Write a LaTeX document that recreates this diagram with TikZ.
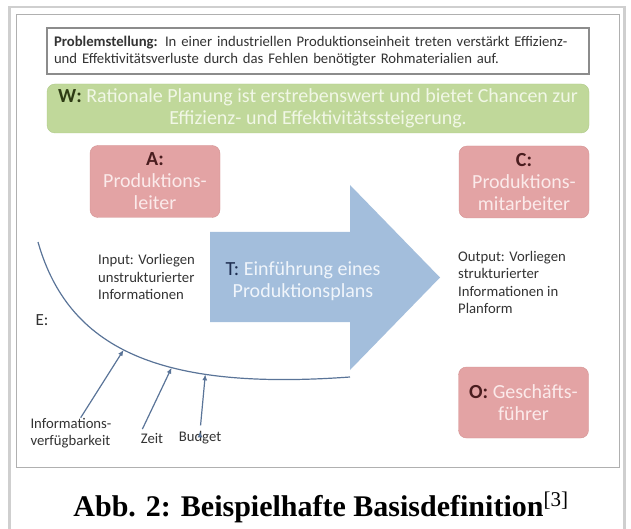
\documentclass[tikz,border=0pt]{standalone}
\usepackage{fontspec}
\setmainfont{Carlito}
\newfontfamily\captionfont{Liberation Serif}
\usetikzlibrary{arrows.meta}

\definecolor{framegray}{HTML}{CFCFCF}
\definecolor{boxgray}{HTML}{8C8C8C}
\definecolor{wgreen}{HTML}{C0D89A}
\definecolor{wgreenline}{HTML}{AFC98A}
\definecolor{wdark}{HTML}{2E3B14}
\definecolor{wlight}{HTML}{F1F7E6}
\definecolor{rolepink}{HTML}{E3A3A4}
\definecolor{rolepinkline}{HTML}{D39393}
\definecolor{roledark}{HTML}{4A1D1F}
\definecolor{rolelight}{HTML}{FBEAEA}
\definecolor{tblue}{HTML}{A3BEDC}
\definecolor{tdark}{HTML}{1D2D4F}
\definecolor{tlight}{HTML}{F0F5FB}
\definecolor{elinie}{HTML}{5A7498}
\definecolor{textgray}{HTML}{333333}

\newcommand{\kleinschrift}{\fontsize{14.7}{17.5}\selectfont}
\newcommand{\grossschrift}{\fontsize{20}{22}\selectfont}

\tikzstyle{problembox} = [draw = boxgray, line width = 1.5pt, fill = white, minimum width = 542pt, minimum height = 46pt, text width = 528pt, align = left, inner sep = 0pt, font = \kleinschrift, text = textgray]
\tikzstyle{wbox} = [draw = wgreenline, fill = wgreen, rounded corners = 8pt, minimum width = 542pt, minimum height = 49pt, align = center, inner sep = 0pt, font = \grossschrift, text = wlight]
\tikzstyle{rolebox} = [draw = rolepinkline, fill = rolepink, rounded corners = 8pt, minimum width = 130pt, minimum height = 72pt, align = center, inner sep = 0pt, font = \grossschrift, text = rolelight]
\tikzstyle{notiz} = [align = left, inner sep = 0pt, font = \kleinschrift, text = textgray]
\tikzstyle{einfluss} = [draw = elinie, line width = 1.2pt]

\begin{document}
\begin{tikzpicture}[x = 1pt, y = -1pt, >={Latex[length = 6pt, width = 5pt]}]
			\useasboundingbox (0,0) rectangle (631,529);
			% Rahmen
			\draw[framegray, line width = 2.5pt] (9.5,529) |- (624.5,7) -- (624.5,529);
			\draw[framegray!85!black, line width = 1pt] (16,15) rectangle (619,467);
			% Problemstellung und Weltanschauung
			\node[problembox] (P) at (318,51) {\textbf{Problemstellung:} In einer industriellen Produktionseinheit treten verstärkt Effizienz-\\und Effektivitätsverluste durch das Fehlen benötigter Rohmaterialien auf.};
			\node[wbox] (W) at (318,108.5) {\textcolor{wdark}{\textbf{W:}} Rationale Planung ist erstrebenswert und bietet Chancen zur\\Effizienz- und Effektivitätssteigerung.};
			% Akteure, Kunden, Eigentuemer
			\node[rolebox] (A) at (155,181.5) {\textcolor{roledark}{\textbf{A:}}\\Produktions-\\leiter};
			\node[rolebox] (C) at (524,182) {\textcolor{roledark}{\textbf{C:}}\\Produktions-\\mitarbeiter};
			\node[rolebox, minimum height = 71pt] (O) at (523.5,402.5) {\textcolor{roledark}{\textbf{O:}} Geschäfts-\\führer};
			% Transformation
			\fill[tblue] (210,232) -- (350,232) -- (350,185) -- (440,277.5) -- (350,370) -- (350,322) -- (210,322) -- cycle;
			\node[font = \grossschrift, text = tlight, align = center] (T) at (303,281) {\textcolor{tdark}{T:} Einführung eines\\Produktionsplans};
			\node[notiz, anchor = west] (input) at (98,277) {Input: Vorliegen\\unstrukturierter\\Informationen};
			\node[notiz, anchor = west] (output) at (458,282.5) {Output: Vorliegen\\strukturierter\\Informationen in\\Planform};
			% Umwelt
			\draw[einfluss] (38,242) .. controls (70,355) and (170,390) .. (350,377)
				coordinate[pos = 0.45] (e1) coordinate[pos = 0.6] (e2) coordinate[pos = 0.69] (e3);
			\node[font = \fontsize{17}{20}\selectfont, text = textgray] (E) at (42,320) {E:};
			\node[notiz] (info) at (71,433) {Informations-\\verfügbarkeit};
			\node[notiz] (zeit) at (152,438) {Zeit};
			\node[notiz] (budget) at (200,438) {Budget};
			\path[->, einfluss]
			(info) edge (e1)
			(zeit.north west) edge[shorten <= 4pt] (e2)
			(budget.north) edge[shorten <= 6pt] (e3);
			% Bildunterschrift
			\node[anchor = base, font = \captionfont\fontsize{30}{34}\selectfont\bfseries] (caption) at (321,516) {Abb. 2: Beispielhafte Basisdefinition\textsuperscript{\mdseries[3]}};
		\end{tikzpicture}
\end{document}
